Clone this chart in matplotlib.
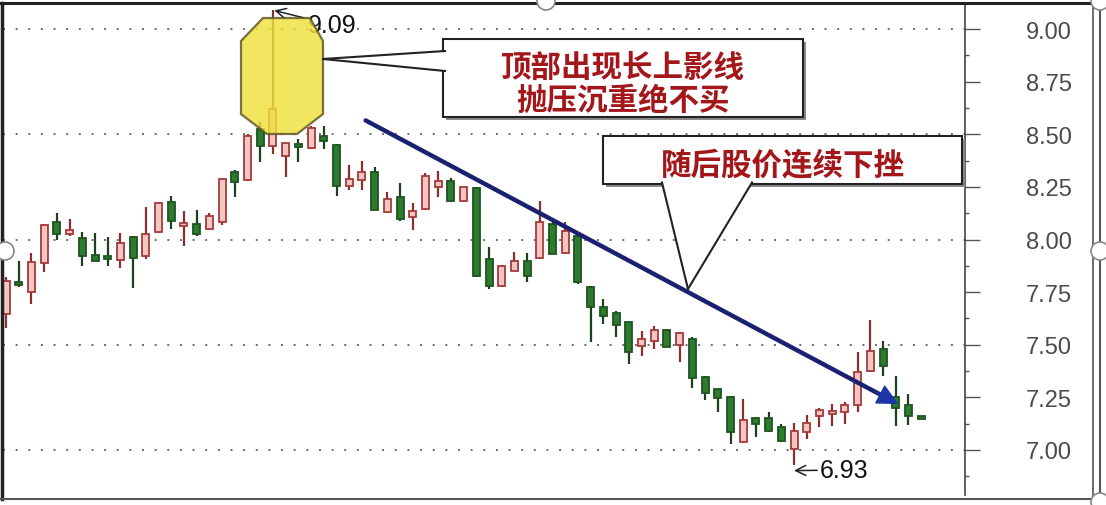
import matplotlib
matplotlib.use('Agg')
import matplotlib.pyplot as plt
import numpy as np
from matplotlib.patches import Rectangle, Polygon, FancyArrowPatch, Ellipse
from matplotlib.lines import Line2D
from matplotlib.ticker import MultipleLocator, FormatStrFormatter

# ---------------- data ----------------
opens = [7.646, 7.79, 7.751, 7.888, 8.083, 8.026, 8.007, 7.925, 7.92, 7.903,
         8.012, 7.922, 8.036, 8.178, 8.065, 8.074, 8.05, 8.083, 8.321, 8.283,
         8.525, 8.444, 8.397, 8.445, 8.435, 8.492, 8.449, 8.254, 8.283, 8.321,
         8.131, 8.202, 8.107, 8.145, 8.249, 8.278, 8.183, 8.245, 7.907, 7.779,
         7.85, 7.898, 7.912, 8.074, 7.936, 8.017, 7.774, 7.679, 7.651, 7.608,
         7.494, 7.518, 7.57, 7.499, 7.527, 7.347, 7.29, 7.252, 7.038, 7.152,
         7.152, 7.109, 7.005, 7.086, 7.162, 7.171, 7.18, 7.214, 7.375, 7.48,
         7.25, 7.214, 7.162]
highs = [7.82, 7.898, 7.936, 8.072, 8.126, 8.097, 8.036, 8.031, 8.012, 8.031,
         8.015, 8.154, 8.18, 8.207, 8.135, 8.14, 8.126, 8.29, 8.33, 8.50,
         8.558, 9.09, 8.46, 8.477, 8.54, 8.539, 8.455, 8.354, 8.373, 8.344,
         8.226, 8.268, 8.173, 8.316, 8.325, 8.29, 8.25, 8.25, 7.964, 7.88,
         7.941, 7.936, 8.183, 8.083, 8.083, 8.03, 7.78, 7.717, 7.66, 7.61,
         7.565, 7.589, 7.575, 7.56, 7.537, 7.35, 7.29, 7.255, 7.242, 7.155,
         7.18, 7.124, 7.128, 7.166, 7.20, 7.219, 7.228, 7.466, 7.618, 7.518,
         7.352, 7.266, 7.162]
lows = [7.58, 7.774, 7.694, 7.846, 8.00, 8.017, 7.874, 7.898, 7.874, 7.865,
        7.77, 7.907, 8.03, 8.05, 7.969, 8.017, 8.048, 8.069, 8.202, 8.28,
        8.368, 8.406, 8.297, 8.368, 8.43, 8.43, 8.207, 8.235, 8.235, 8.138,
        8.128, 8.09, 8.045, 8.14, 8.202, 8.18, 8.18, 7.82, 7.765, 7.775,
        7.848, 7.798, 7.908, 7.93, 7.93, 7.79, 7.513, 7.599, 7.537, 7.409,
        7.447, 7.48, 7.49, 7.418, 7.294, 7.238, 7.18, 7.029, 7.035, 7.062,
        7.085, 7.04, 6.93, 7.052, 7.109, 7.114, 7.124, 7.18, 7.37, 7.352,
        7.114, 7.119, 7.147]
closes = [7.803, 7.785, 7.893, 8.069, 8.026, 8.045, 7.922, 7.90, 7.905, 7.983,
          7.912, 8.026, 8.173, 8.088, 8.07, 8.026, 8.112, 8.287, 8.273, 8.492,
          8.444, 8.62, 8.458, 8.44, 8.53, 8.468, 8.254, 8.287, 8.321, 8.14,
          8.192, 8.097, 8.135, 8.302, 8.278, 8.183, 8.249, 7.827, 7.779, 7.874,
          7.898, 7.827, 8.083, 7.931, 8.04, 7.798, 7.679, 7.637, 7.594, 7.465,
          7.527, 7.57, 7.49, 7.556, 7.342, 7.271, 7.247, 7.086, 7.143, 7.123,
          7.09, 7.043, 7.09, 7.128, 7.19, 7.185, 7.214, 7.371, 7.47, 7.399,
          7.20, 7.162, 7.147]

y_ticks = [7.00, 7.25, 7.50, 7.75, 8.00, 8.25, 8.50, 8.75, 9.00]
grid_levels = [7.0, 7.5, 8.0, 8.5, 9.0]
peak_label = "9.09"
trough_label = "6.93"
note_top = "顶部出现长上影线\n抛压沉重绝不买"
note_down = "随后股价连续下挫"

# ---------------- figure ----------------
W, H = 1106, 506
fig = plt.figure(figsize=(W / 100, H / 100), dpi=100)
fig.patch.set_facecolor('white')

def P(x, y):
    return (x / W, 1 - y / H)

ax = fig.add_axes([3 / W, 10 / H, 962 / W, 491 / H])
ax.set_facecolor('white')
n = len(opens)
xs = np.arange(n)
ax.set_xlim(-0.24, 75.45)
ax.set_ylim(6.786, 9.119)

for lv in grid_levels:
    ax.axhline(lv, color='#6a6a6a', lw=1.4, ls=(0, (1, 5.5)), zorder=0)

up_fill, up_edge, up_wick = '#f3c6c4', '#a53a3a', '#8a2e2e'
dn_fill, dn_edge, dn_wick = '#2e7b30', '#1e5420', '#1d401f'
bw = 0.55
for i in range(n):
    o, h, l, c = opens[i], highs[i], lows[i], closes[i]
    up = c >= o
    wick = up_wick if up else dn_wick
    ax.vlines(xs[i], l, h, color=wick, lw=1.6, zorder=2)
    bottom = min(o, c)
    height = max(abs(c - o), 0.012)
    ax.bar(xs[i], height, bottom=bottom, width=bw,
           color=up_fill if up else dn_fill,
           edgecolor=up_edge if up else dn_edge, linewidth=1.3, zorder=3)

# axis styling
for s in ['left', 'top', 'bottom']:
    ax.spines[s].set_visible(False)
ax.spines['right'].set_color('#444444')
ax.spines['right'].set_linewidth(1.2)
ax.set_xticks([])
ax.yaxis.tick_right()
ax.set_yticks(y_ticks)
ax.yaxis.set_major_formatter(FormatStrFormatter('%.2f'))
ax.yaxis.set_minor_locator(MultipleLocator(0.125))
ax.tick_params(axis='y', which='major', length=11, width=1, color='#555555',
               pad=33, labelsize=17, labelcolor='#4a4a4a')
ax.tick_params(axis='y', which='minor', length=3, width=1, color='#555555')
for t in ax.get_yticklabels():
    t.set_fontfamily('Liberation Sans')

# ---------------- annotations ----------------
peak_i = int(np.argmax(highs))
trough_i = int(np.argmin(lows))

# yellow octagon around the top candle
octa = [(263, 19), (310, 19), (323, 42), (323, 115), (297, 135), (267, 135),
        (241, 115), (241, 42)]
fig.patches.append(Polygon([P(*p) for p in octa], closed=True,
                           transform=fig.transFigure, facecolor='#f0e03c',
                           edgecolor='#5a5420', lw=1.6, alpha=0.82, zorder=5))

# peak label
ax.annotate(peak_label, xy=(peak_i, highs[peak_i]),
            xytext=(308 / W, 1 - 26 / H), textcoords='figure fraction',
            fontsize=18, family='Liberation Sans', color='#111111',
            va='center', ha='left',
            arrowprops=dict(arrowstyle='->', color='#222222', lw=1.1,
                            shrinkA=1, shrinkB=1), zorder=6)
# trough label
ax.annotate(trough_label, xy=(trough_i, lows[trough_i] - 0.028),
            xytext=(820 / W, 1 - 471 / H), textcoords='figure fraction',
            fontsize=18, family='Liberation Sans', color='#111111',
            va='center', ha='left',
            arrowprops=dict(arrowstyle='->', color='#222222', lw=1.1,
                            shrinkA=0, shrinkB=0), zorder=6)

# trend arrow
trend = FancyArrowPatch((28.1, 8.572), (69.6, 7.237), arrowstyle='-',
                        color='#1b2170', lw=3.2, zorder=6)
ax.add_patch(trend)
head = FancyArrowPatch((68.2, 7.282), (70.4, 7.212), arrowstyle='-|>',
                       mutation_scale=34, color='#1c35a8', lw=1.0, zorder=6.5)
ax.add_patch(head)

def callout(box, tip, base, text, ty):
    x0, y0, x1, y1 = box
    # shadow
    fig.patches.append(Rectangle(P(x0 + 3, y1 + 3), (x1 - x0) / W, (y1 - y0) / H,
                                 transform=fig.transFigure, facecolor='#8a8a8a',
                                 edgecolor='none', zorder=7))
    fig.patches.append(Rectangle(P(x0, y1), (x1 - x0) / W, (y1 - y0) / H,
                                 transform=fig.transFigure, facecolor='white',
                                 edgecolor='#222222', lw=1.5, zorder=7))
    (bx1, by1), (bx2, by2) = base
    fig.patches.append(Polygon([P(*tip), P(bx1, by1), P(bx2, by2)], closed=True,
                               transform=fig.transFigure, facecolor='white',
                               edgecolor='none', zorder=7.5))
    for bx, by in base:
        fig.lines.append(Line2D([tip[0] / W, bx / W], [1 - tip[1] / H, 1 - by / H],
                                transform=fig.transFigure, color='#222222',
                                lw=1.5, zorder=7.6))
    fig.text((x0 + x1) / 2 / W, 1 - ty / H, text, ha='center', va='center',
             family=['Noto Sans CJK SC', 'DejaVu Sans'], weight='bold',
             fontsize=22, color='#a3161a', linespacing=1.05, zorder=8)

callout((443, 40, 803, 118), (323, 60), [(445, 52), (445, 72)], note_top, 84)
callout((603, 137, 962, 185), (688, 290), [(662, 183.5), (752, 183.5)], note_down, 166)

# ---------------- outer frame & handles ----------------
def fline(x0, y0, x1, y1, c='#222222', lw=2.0):
    fig.lines.append(Line2D([x0 / W, x1 / W], [1 - y0 / H, 1 - y1 / H],
                            transform=fig.transFigure, color=c, lw=lw, zorder=9))

fline(0, 4, W, 4, lw=2.2)
fline(1.5, 4, 1.5, 500, lw=2.5)
fline(0, 500, W, 500, c='#555555', lw=1.5)
fline(1093, 4, 1093, 500, c='#555555', lw=1.2)
fline(1100, 4, 1100, 500, c='#555555', lw=1.5)
for hx, hy in [(5, 252), (546, 2), (1100, 252), (1100, 503), (1100, 2)]:
    fig.patches.append(Ellipse(P(hx, hy), 18 / W, 18 / H, transform=fig.transFigure,
                               facecolor='white', edgecolor='#888888', lw=1.2,
                               zorder=10))

fig.savefig('out.png', dpi=100)
